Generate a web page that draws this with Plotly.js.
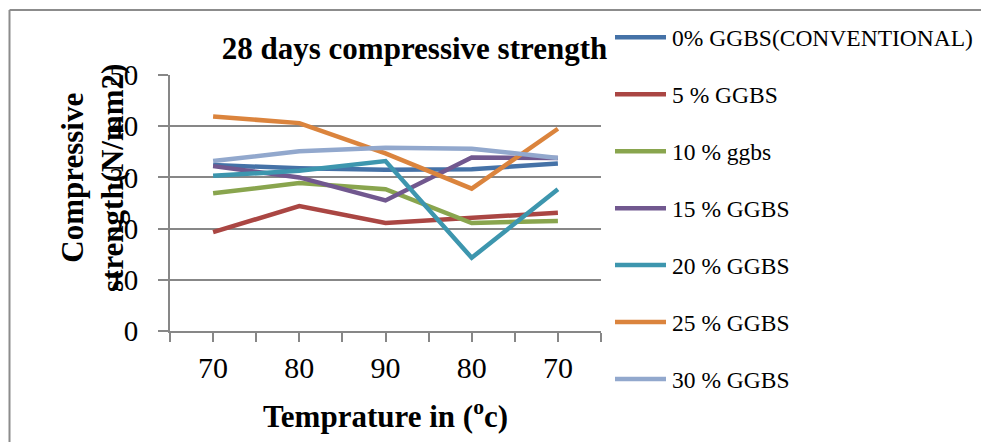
<!DOCTYPE html>
<html>
<head>
<meta charset="utf-8">
<script src="https://cdn.plot.ly/plotly-3.0.1.min.js"></script>
<style>
  html, body { margin: 0; padding: 0; background: #fff; }
  #chart { width: 981px; height: 442px; }
</style>
</head>
<body>
<div id="chart"></div>
<script>
// Temperature categories (heating/cooling cycle) on the x axis
const temperatures = ['70', '80', '90', '80', '70'];

// 28-day compressive strength (N/mm2) per GGBS replacement level
const ggbs0  = [32.4, 31.8, 31.5, 31.6, 32.7];
const ggbs5  = [19.3, 24.4, 21.1, 22.1, 23.1];
const ggbs10 = [26.9, 28.9, 27.7, 21.1, 21.5];
const ggbs15 = [32.2, 30.0, 25.5, 33.9, 33.8];
const ggbs20 = [30.3, 31.3, 33.2, 14.3, 27.7];
const ggbs25 = [41.9, 40.6, 34.7, 27.8, 39.5];
const ggbs30 = [33.2, 35.1, 35.8, 35.6, 33.8];

const seriesNames = ['0% GGBS(CONVENTIONAL)', '5 % GGBS', '10 % ggbs', '15 % GGBS',
                     '20 % GGBS', '25 % GGBS', '30 % GGBS'];
const seriesValues = [ggbs0, ggbs5, ggbs10, ggbs15, ggbs20, ggbs25, ggbs30];
const seriesColors = ['#4572A7', '#AA4643', '#89A54E', '#71588F', '#3D96AE', '#DB843D', '#92A8CD'];

const W = 981, H = 442;
const M = { l: 170, r: 380, t: 75, b: 111 };
const plotW = W - M.l - M.r, plotH = H - M.t - M.b;
// pixel -> paper helpers for the decorations around the plot
const px = v => (v - M.l) / plotW;
const py = v => (H - M.b - v) / plotH;

const serif = 'Liberation Serif, Times New Roman, serif';
const grey = '#878787';

const xIndex = temperatures.map((_, i) => i);

const traces = seriesValues.map((vals, i) => ({
  type: 'scatter',
  mode: 'lines',
  name: seriesNames[i],
  x: xIndex,
  y: vals,
  line: { color: seriesColors[i], width: 4.5 },
  showlegend: false,
  hoverinfo: 'skip'
}));

const shapes = [
  // outer chart-area frame (left and top edges)
  { type: 'line', xref: 'paper', yref: 'paper', x0: px(9.5), x1: px(9.5), y0: py(10), y1: py(H + 5),
    line: { color: '#8c8c8c', width: 2 } },
  { type: 'line', xref: 'paper', yref: 'paper', x0: px(9.5), x1: px(W + 5), y0: py(10), y1: py(10),
    line: { color: '#8c8c8c', width: 2 } }
];

const annotations = [
  { text: '<b>Compressive<br>strength(N/mm2)</b>', textangle: -90,
    xref: 'paper', yref: 'paper', x: px(92), y: py(178), xanchor: 'center', yanchor: 'middle',
    showarrow: false, font: { family: serif, size: 31, color: '#000' } },
  { text: '<b>Temprature in (<sup>o</sup>c)</b>',
    xref: 'paper', yref: 'paper', x: px(385.5), y: py(414), xanchor: 'center', yanchor: 'middle',
    showarrow: false, font: { family: serif, size: 31, color: '#000' } }
];

// legend: line sample + label for each series
const legTop = 37.3, legStep = 56.95;
seriesNames.forEach((name, i) => {
  const yy = legTop + i * legStep;
  shapes.push({ type: 'line', xref: 'paper', yref: 'paper',
    x0: px(615), x1: px(666), y0: py(yy), y1: py(yy),
    line: { color: seriesColors[i], width: 4.5 } });
  annotations.push({ text: name, xref: 'paper', yref: 'paper',
    x: px(670), y: py(yy + 1), xanchor: 'left', yanchor: 'middle', showarrow: false,
    font: { family: serif, size: 23.5, color: '#000' } });
});

const layout = {
  width: W, height: H,
  margin: M,
  font: { family: serif, color: '#000' },
  paper_bgcolor: '#fff', plot_bgcolor: '#fff',
  showlegend: false,
  title: { text: '<b>28 days compressive strength</b>', x: 414.5 / W, xanchor: 'center',
           y: 1 - 48.5 / H, yanchor: 'middle', font: { family: serif, size: 31, color: '#000' } },
  xaxis: {
    range: [-0.5, temperatures.length - 0.5],
    tickmode: 'array', tickvals: xIndex, ticktext: temperatures,
    ticks: 'outside', ticklen: 9, tickwidth: 2, tickcolor: grey,
    // extra ticks on the category boundaries
    minor: { ticks: 'outside', tick0: -0.5, dtick: 0.5, ticklen: 9, tickwidth: 2, tickcolor: grey, showgrid: false },
    showline: true, linecolor: grey, linewidth: 2,
    showgrid: false, zeroline: false,
    tickfont: { family: serif, size: 30, color: '#000' },
    ticklabelstandoff: 0,
    fixedrange: true
  },
  yaxis: {
    range: [0, 50], tickmode: 'linear', tick0: 0, dtick: 10,
    ticks: 'outside', ticklen: 10, tickwidth: 2, tickcolor: grey,
    showline: true, linecolor: grey, linewidth: 2,
    showgrid: true, gridcolor: grey, gridwidth: 2,
    zeroline: false,
    tickfont: { family: serif, size: 29, color: '#000' },
    ticklabelstandoff: 14,
    fixedrange: true
  },
  shapes: shapes,
  annotations: annotations
};

Plotly.newPlot('chart', traces, layout, { displayModeBar: false, staticPlot: true });
</script>
</body>
</html>
